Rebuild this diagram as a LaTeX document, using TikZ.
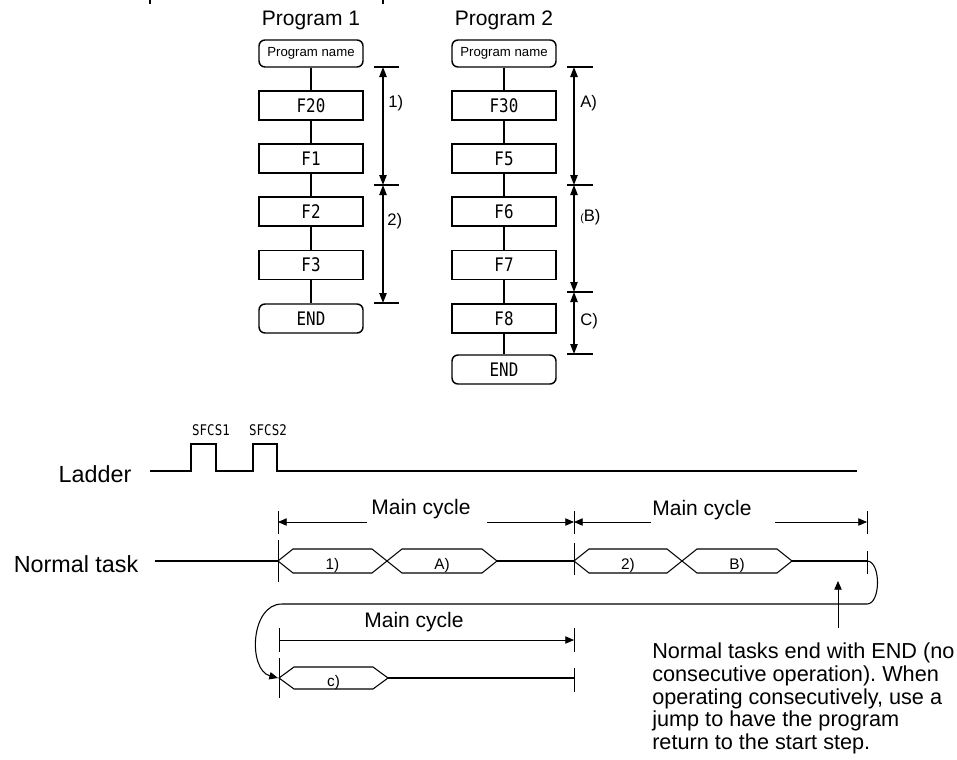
\documentclass[tikz,border=0pt]{standalone}
\usepackage{fontspec}
\setmainfont{Liberation Sans}
\newfontfamily\monofont[FakeStretch=0.85]{DejaVu Sans Mono}
\usetikzlibrary{arrows.meta}
\frenchspacing
\tikzset{
  fbox/.style={draw, line width=1.1pt, minimum width=78pt, minimum height=21.75pt, inner sep=0pt,
    font=\monofont\fontsize{14}{16}\selectfont},
  rbox/.style={fbox, rounded corners=4.5pt},
  pname/.style={rbox, minimum height=20.25pt, font=\fontsize{9.9}{11}\selectfont},
  conn/.style={line width=1.1pt},
  tk/.style={line width=1.1pt},
  dimarr/.style={line width=1.1pt, {Triangle[length=7.5pt,width=5.5pt]}-{Triangle[length=7.5pt,width=5.5pt]}},
  lbl/.style={inner sep=0pt, anchor=west, font=\fontsize{12.5}{14}\selectfont},
  title/.style={inner sep=0pt, font=\fontsize{15.75}{18}\selectfont},
  sig/.style={line width=0.8pt},
  tarr/.style={line width=0.6pt},
  ah/.style={-{Triangle[length=6.5pt,width=5.5pt]}},
  ha/.style={{Triangle[length=6.5pt,width=5.5pt]}-},
  hlbl/.style={inner sep=0pt, font=\fontsize{11.5}{12}\selectfont},
  big/.style={inner sep=0pt, font=\fontsize{17.5}{20}\selectfont},
  sfcs/.style={inner sep=0pt, font=\monofont\fontsize{11}{13}\selectfont}
}
\newcommand\myhex[5]{%
  \draw[sig] (#1,#3) -- ({#1+15},{#3-#5}) -- ({#2-15},{#3-#5}) -- (#2,#3) -- ({#2-15},{#3+#5}) -- ({#1+15},{#3+#5}) -- cycle;
  \node[hlbl] at ({(#1+#2)/2},{#3+5}) {#4};}
\begin{document}
\begin{tikzpicture}[x=0.75pt,y=-0.75pt]
\useasboundingbox (0,0) rectangle (957,760);

% cut-off marks at the top
\draw[line width=1.4pt] (150,0) -- (150,4);
\draw[line width=1.4pt] (383,0) -- (383,4);

% titles
\node[title] (t1) at (311,20) {Program 1};
\node[title] (t2) at (504,20) {Program 2};

% Program 1
\node[pname] (pn1) at (311,53.5) {Program name};
\node[fbox] (f20) at (311,105.5) {F20};
\node[fbox] (f1) at (311,158.5) {F1};
\node[fbox] (f2) at (311,211.5) {F2};
\node[fbox] (f3) at (311,265) {F3};
\node[rbox] (end1) at (311,318.5) {END};
\draw[conn] (pn1) -- (f20) -- (f1) -- (f2) -- (f3) -- (end1);

\coordinate (d1a) at (383,67);
\coordinate (d1b) at (383,185);
\coordinate (d1c) at (383,303);
\foreach \yy in {67,185,303} \draw[tk] (374,\yy) -- (399,\yy);
\draw[dimarr] (d1a) -- (d1b);
\draw[dimarr] (d1b) -- (d1c);
\node[lbl] (l1) at (388,103) {1)};
\node[lbl] (l2) at (387,221.5) {2)};

% Program 2
\node[pname] (pn2) at (504,53.5) {Program name};
\node[fbox] (f30) at (504,105.5) {F30};
\node[fbox] (f5) at (504,158.5) {F5};
\node[fbox] (f6) at (504,211.5) {F6};
\node[fbox] (f7) at (504,265) {F7};
\node[fbox] (f8) at (504,318.5) {F8};
\node[rbox] (end2) at (504,369.5) {END};
\draw[conn] (pn2) -- (f30) -- (f5) -- (f6) -- (f7) -- (f8) -- (end2);

\coordinate (d2a) at (574,67);
\coordinate (d2b) at (574,185);
\coordinate (d2c) at (574,292);
\coordinate (d2d) at (574,354);
\foreach \yy in {67,185,292,354} \draw[tk] (567,\yy) -- (593,\yy);
\draw[dimarr] (d2a) -- (d2b);
\draw[dimarr] (d2b) -- (d2c);
\draw[dimarr] (d2c) -- (d2d);
\node[lbl] (la) at (580,103) {A)};
\node[lbl] (lb) at (580,217) {{\fontsize{8}{9}\selectfont(}B)};
\node[lbl] (lc) at (580,321.5) {C)};

% Ladder
\node[big] (lad) at (95,474) {Ladder};
\draw[sig] (150,471) -- (191,471) -- (191,444) -- (216,444) -- (216,471) -- (253,471)
  -- (253,444) -- (277,444) -- (277,471) -- (857,471);
\node[sfcs] (s1) at (211,430) {SFCS1};
\node[sfcs] (s2) at (268,430) {SFCS2};

% Main cycle row 1
\node[title] (mc1) at (421,509) {Main cycle};
\node[title] (mc2) at (702,510) {Main cycle};
\foreach \xx in {278,574,867} \draw[tarr] (\xx,511) -- (\xx,534);
\draw[tarr,ha] (278,522) -- (367,522);
\draw[tarr,ah] (487,522) -- (574,522);
\draw[tarr,ha] (574,522) -- (651,522);
\draw[tarr,ah] (775,522) -- (867,522);

% Normal task row
\node[big] (nt) at (76,564) {Normal task};
\draw[sig] (155,561) -- (278,561);
\draw[tarr] (278,540) -- (278,582);
\draw[tarr] (574,543) -- (574,575);
\draw[tarr] (867,551) -- (867,574);
\myhex{278}{387}{561}{1)}{12}
\myhex{387}{497}{561}{A)}{12}
\draw[sig] (497,561) -- (574,561);
\myhex{574}{682}{561}{2)}{12}
\myhex{682}{792}{561}{B)}{12}
\draw[sig] (792,561) -- (867,561);

% loop back
\coordinate (lpA) at (867,561);
\coordinate (lpB) at (867,604);
\coordinate (lpC) at (282,604);
\coordinate (lpD) at (278,678);
\draw[sig,ah] (lpA) .. controls (881,561) and (881,604) .. (lpB) -- (lpC)
  .. controls (250,604) and (248,670) .. (lpD);

% Main cycle row 2
\node[title] (mc3) at (414,622) {Main cycle};
\draw[tarr] (279,628) -- (279,652);
\draw[tarr] (574,628) -- (574,652);
\draw[tarr,ha,ah] (279,640) -- (574,640);

% bottom row
\draw[tarr] (279,658) -- (279,698);
\myhex{279}{388}{678}{c)}{11}
\draw[sig] (388,678) -- (574,678);
\draw[tarr] (574,668) -- (574,692);

% note
\coordinate (upS) at (838,628);
\coordinate (upE) at (838,581);
\draw[tarr,ah] (upS) -- (upE);
\node[inner sep=0pt, anchor=north west, align=left, font=\fontsize{16.25}{16.9}\selectfont] (note) at (652,643)
  {Normal tasks end with END (no\\consecutive operation). When\\operating consecutively, use a\\jump to have the program\\return to the start step.};
\end{tikzpicture}
\end{document}
